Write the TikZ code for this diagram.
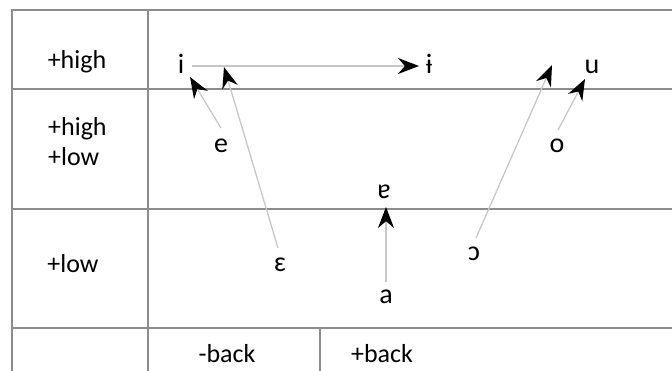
\documentclass[tikz,border=0pt]{standalone}
\usepackage{fontspec}
\setmainfont{Carlito}
\usetikzlibrary{arrows.meta}
\tikzset{
  frame/.style={draw=black!45, line width=1.6pt},
  arr/.style={draw=black!22, line width=1.3pt, -{Stealth[length=21pt,width=16pt,black]}},
  lbl/.style={inner sep=0pt, anchor=base, font=\fontsize{26}{30}\selectfont},
  vow/.style={inner sep=0pt, anchor=base, font=\fontsize{28}{32}\selectfont},
}
\begin{document}
\begin{tikzpicture}[x=1pt,y=-1pt]
\useasboundingbox (0,0) rectangle (672,370);
% grid
\draw[frame] (672,10) -- (12,10) -- (12,372);
\draw[frame] (148,10) -- (148,372);
\draw[frame] (12,89) -- (672,89);
\draw[frame] (12,209) -- (672,209);
\draw[frame] (12,328) -- (672,328);
\draw[frame] (320,328) -- (320,372);
% row labels
\node[lbl] (rh) at (77,68) {+high};
\node[lbl, anchor=base west] (rhl1) at (48,135) {+high};
\node[lbl, anchor=base west] (rhl2) at (48,165) {+low};
\node[lbl] (rl) at (73,272) {+low};
\node[lbl] (cb1) at (227,362) {-back};
\node[lbl] (cb2) at (382,362) {+back};
% vowels
\node[vow] (i) at (181,73) {i};
\node[vow] (ib) at (429,73) {ɨ};
\node[vow] (u) at (592,73) {u};
\node[vow] (e) at (221,152) {e};
\node[vow] (o) at (557,152) {o};
\node[vow] (tu) at (384,198) {ɐ};
\node[vow] (eps) at (280,271) {ɛ};
\node[vow] (oo) at (474,260) {ɔ};
\node[vow] (a) at (386,303) {a};
% connector ends
\coordinate (iS) at (192,66);
\coordinate (ibT) at (419,66);
\coordinate (eS) at (221,128);
\coordinate (iT) at (190,77);
\coordinate (epsS) at (278,248);
\coordinate (iT2) at (224,67);
\coordinate (aS) at (386,282);
\coordinate (tuT) at (386,207);
\coordinate (ooS) at (476,238);
\coordinate (uT2) at (552,65);
\coordinate (oS) at (558,130);
\coordinate (uT) at (585,79);
% arrows
\draw[arr] (iS) -- (ibT);
\draw[arr] (eS) -- (iT);
\draw[arr] (epsS) -- (iT2);
\draw[arr] (aS) -- (tuT);
\draw[arr] (ooS) -- (uT2);
\draw[arr] (oS) -- (uT);
\end{tikzpicture}
\end{document}
